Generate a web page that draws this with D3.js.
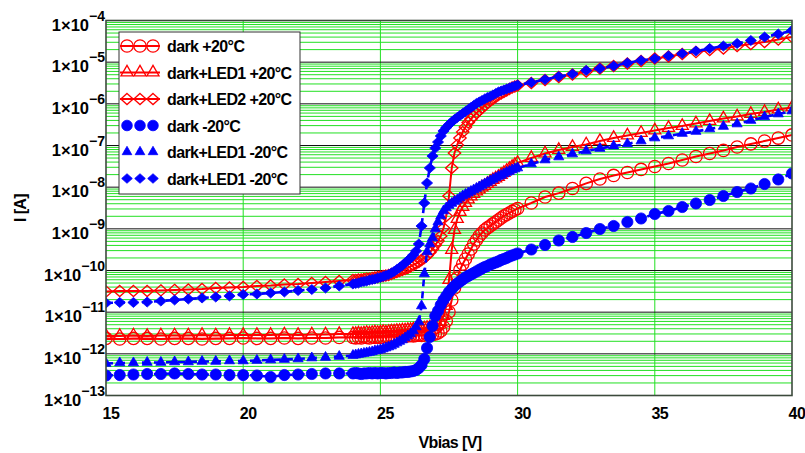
<!DOCTYPE html>
<html>
<head>
<meta charset="utf-8">
<script src="https://cdn.jsdelivr.net/npm/d3@7"></script>
<style>
  html, body { margin: 0; padding: 0; background: #fff; }
  svg { display: block; font-family: "Liberation Sans", Arial, Helvetica, sans-serif; font-weight: bold; }
</style>
</head>
<body>
<svg id="chart" width="805" height="453"></svg>
<script>
// Bias sweep [V]: 0.5 V steps, 0.1 V steps through the breakdown region
const sweepV = [15,15.5,16,16.5,17,17.5,18,18.5,19,19.5,20,20.5,21,21.5,22,22.5,23,23.5,
  24,24.1,24.2,24.3,24.4,24.5,24.6,24.7,24.8,24.9,
  25,25.1,25.2,25.3,25.4,25.5,25.6,25.7,25.8,25.9,
  26,26.1,26.2,26.3,26.4,26.5,26.6,26.7,26.8,26.9,
  27,27.1,27.2,27.3,27.4,27.5,27.6,27.7,27.8,27.9,
  28,28.1,28.2,28.3,28.4,28.5,28.6,28.7,28.8,28.9,
  29,29.1,29.2,29.3,29.4,29.5,29.6,29.7,29.8,29.9,
  30,30.5,31,31.5,32,32.5,33,33.5,34,34.5,35,35.5,36,36.5,37,37.5,38,38.5,39,39.5,40];

// Measured current [A]
const darkP20 = [2.34e-12,2.27e-12,2.34e-12,2.34e-12,2.27e-12,2.34e-12,2.34e-12,2.27e-12,2.34e-12,2.34e-12,2.40e-12,2.34e-12,2.34e-12,2.40e-12,2.34e-12,2.40e-12,2.40e-12,2.47e-12,
  2.47e-12,2.40e-12,2.47e-12,2.40e-12,2.54e-12,2.47e-12,2.40e-12,2.54e-12,2.47e-12,2.54e-12,
  2.47e-12,2.54e-12,2.61e-12,2.54e-12,2.61e-12,2.54e-12,2.61e-12,2.68e-12,2.61e-12,2.68e-12,
  2.68e-12,2.76e-12,2.68e-12,2.76e-12,2.83e-12,2.76e-12,2.83e-12,2.91e-12,2.83e-12,2.91e-12,
  2.99e-12,3.17e-12,3.53e-12,4.41e-12,6.14e-12,1.01e-11,1.96e-11,3.8e-11,6.6e-11,1.03e-10,
  1.43e-10,1.89e-10,2.49e-10,3.28e-10,4.33e-10,5.39e-10,6.72e-10,7.94e-10,9.38e-10,1.05e-9,
  1.17e-9,1.31e-9,1.46e-9,1.63e-9,1.82e-9,2.03e-9,2.21e-9,2.4e-9,2.61e-9,2.83e-9,
  3.08e-9,
  4.17e-9,5.8e-9,7.2e-9,9.3e-9,1.23e-8,1.57e-8,1.91e-8,2.25e-8,2.66e-8,3.13e-8,3.7e-8,4.49e-8,5.45e-8,6.43e-8,7.6e-8,9.2e-8,1.09e-7,1.28e-7,1.51e-7,1.79e-7];

const led1P20 = [2.68e-12,2.68e-12,2.76e-12,2.68e-12,2.76e-12,2.76e-12,2.76e-12,2.83e-12,2.76e-12,2.83e-12,2.83e-12,2.83e-12,2.83e-12,2.91e-12,2.83e-12,2.91e-12,2.91e-12,2.99e-12,
  2.99e-12,2.99e-12,3.08e-12,2.99e-12,3.08e-12,3.17e-12,3.08e-12,3.17e-12,3.25e-12,3.17e-12,
  3.25e-12,3.34e-12,3.25e-12,3.34e-12,3.44e-12,3.44e-12,3.53e-12,3.53e-12,3.63e-12,3.63e-12,
  3.73e-12,3.73e-12,3.84e-12,3.84e-12,3.95e-12,3.95e-12,4.06e-12,4.17e-12,4.29e-12,4.41e-12,
  4.53e-12,4.92e-12,5.8e-12,8.09e-12,1.41e-11,5.9e-11,3.11e-10,9.38e-10,1.72e-9,2.54e-9,
  3.34e-9,4.17e-9,5.05e-9,5.97e-9,6.85e-9,7.86e-9,8.78e-9,9.8e-9,1.07e-8,1.19e-8,
  1.33e-8,1.49e-8,1.62e-8,1.76e-8,1.96e-8,2.19e-8,2.45e-8,2.73e-8,3.05e-8,3.4e-8,
  3.8e-8,
  5.0e-8,6.43e-8,7.79e-8,9.2e-8,1.06e-7,1.28e-7,1.51e-7,1.74e-7,2.0e-7,2.29e-7,2.63e-7,2.94e-7,3.37e-7,3.87e-7,4.45e-7,4.96e-7,5.7e-7,6.37e-7,7.3e-7,8.15e-7];

const led2P20 = [3.14e-11,3.22e-11,3.22e-11,3.22e-11,3.33e-11,3.42e-11,3.5e-11,3.6e-11,3.8e-11,3.9e-11,4.02e-11,4.25e-11,4.37e-11,4.61e-11,4.74e-11,5.01e-11,5.3e-11,5.6e-11,
  5.9e-11,5.9e-11,6.08e-11,6.08e-11,6.25e-11,6.44e-11,6.44e-11,6.62e-11,6.81e-11,7.0e-11,
  7.2e-11,7.39e-11,7.6e-11,7.82e-11,8.25e-11,8.7e-11,9.2e-11,9.7e-11,1.03e-10,1.09e-10,
  1.15e-10,1.25e-10,1.36e-10,1.47e-10,1.6e-10,1.79e-10,2.0e-10,2.29e-10,2.71e-10,3.28e-10,
  4.1e-10,5.1e-10,6.72e-10,1.05e-9,2.03e-9,6.14e-9,2.88e-8,6.6e-8,1.03e-7,1.51e-7,
  2.11e-7,2.78e-7,3.56e-7,4.32e-7,5.1e-7,6.03e-7,6.9e-7,7.94e-7,9.1e-7,1.05e-6,
  1.17e-6,1.31e-6,1.46e-6,1.63e-6,1.77e-6,1.92e-6,2.09e-6,2.27e-6,2.47e-6,2.6e-6,
  2.74e-6,
  3.16e-6,3.73e-6,4.4e-6,5.05e-6,5.97e-6,7.0e-6,8.1e-6,9.3e-6,1.07e-5,1.22e-5,1.37e-5,1.57e-5,1.75e-5,1.96e-5,2.13e-5,2.44e-5,2.73e-5,3.05e-5,3.5e-5,4.01e-5];

const darkM20 = [3.02e-13,3.1e-13,3.19e-13,3.28e-13,3.28e-13,3.38e-13,3.28e-13,3.19e-13,3.19e-13,3.1e-13,3.1e-13,3.02e-13,2.78e-13,3.1e-13,3.19e-13,3.28e-13,3.38e-13,3.38e-13,
  3.38e-13,3.47e-13,3.38e-13,3.28e-13,3.38e-13,3.38e-13,3.47e-13,3.38e-13,3.47e-13,3.38e-13,
  3.47e-13,3.47e-13,3.38e-13,3.47e-13,3.47e-13,3.57e-13,3.47e-13,3.57e-13,3.57e-13,3.67e-13,
  3.67e-13,3.77e-13,3.87e-13,4.09e-13,4.58e-13,5.4e-13,7.5e-13,1.38e-12,2.54e-12,4.66e-12,
  8.09e-12,1.07e-11,1.49e-11,1.96e-11,2.45e-11,3.05e-11,3.6e-11,4.25e-11,4.88e-11,5.45e-11,
  6.08e-11,6.81e-11,7.39e-11,8.03e-11,8.7e-11,9.47e-11,1.03e-10,1.12e-10,1.21e-10,1.28e-10,
  1.39e-10,1.47e-10,1.56e-10,1.65e-10,1.79e-10,1.89e-10,2.0e-10,2.17e-10,2.29e-10,2.42e-10,
  2.56e-10,
  3.19e-10,4.1e-10,5.25e-10,6.38e-10,7.94e-10,9.9e-10,1.17e-9,1.46e-9,1.77e-9,2.27e-9,2.68e-9,3.34e-9,4.06e-9,4.92e-9,6.14e-9,7.65e-9,9.3e-9,1.19e-8,1.53e-8,2.13e-8];

const led1M20 = [5.86e-13,6.03e-13,6.03e-13,6.2e-13,6.2e-13,6.38e-13,6.38e-13,6.56e-13,6.56e-13,6.74e-13,6.74e-13,6.93e-13,7.12e-13,7.32e-13,7.53e-13,7.95e-13,8.17e-13,8.63e-13,
  9.1e-13,9.35e-13,9.65e-13,9.9e-13,1.02e-12,1.05e-12,1.08e-12,1.11e-12,1.17e-12,1.2e-12,
  1.24e-12,1.31e-12,1.38e-12,1.46e-12,1.54e-12,1.68e-12,1.82e-12,1.98e-12,2.15e-12,2.4e-12,
  2.68e-12,2.99e-12,3.53e-12,4.41e-12,5.8e-12,1.41e-11,8.25e-11,2.78e-10,4.33e-10,6.03e-10,
  9.9e-10,1.46e-9,2.03e-9,2.68e-9,3.16e-9,3.63e-9,4.06e-9,4.53e-9,4.92e-9,5.5e-9,
  6.14e-9,6.66e-9,7.23e-9,7.86e-9,8.56e-9,9.3e-9,1.01e-8,1.1e-8,1.19e-8,1.3e-8,
  1.41e-8,1.53e-8,1.66e-8,1.8e-8,1.91e-8,2.07e-8,2.25e-8,2.38e-8,2.58e-8,2.73e-8,
  2.88e-8,
  3.6e-8,4.49e-8,5.3e-8,6.24e-8,7.37e-8,8.47e-8,9.7e-8,1.09e-7,1.28e-7,1.51e-7,1.69e-7,1.94e-7,2.17e-7,2.49e-7,2.86e-7,3.28e-7,3.98e-7,4.83e-7,5.7e-7,6.72e-7];

const led1M20b = [1.66e-11,1.71e-11,1.71e-11,1.75e-11,1.85e-11,1.96e-11,2.07e-11,2.19e-11,2.31e-11,2.45e-11,2.66e-11,2.73e-11,2.89e-11,3.05e-11,3.31e-11,3.5e-11,3.8e-11,4.25e-11,
  4.74e-11,4.88e-11,5.01e-11,5.3e-11,5.45e-11,5.6e-11,5.9e-11,6.08e-11,6.25e-11,6.6e-11,
  6.81e-11,7.2e-11,7.6e-11,8.03e-11,8.7e-11,9.47e-11,1.06e-10,1.18e-10,1.32e-10,1.52e-10,
  1.74e-10,2.0e-10,2.36e-10,2.94e-10,4.33e-10,1.17e-9,4.17e-9,1.26e-8,2.88e-8,5.6e-8,
  8.7e-8,1.21e-7,1.69e-7,2.23e-7,2.7e-7,3.19e-7,3.67e-7,4.2e-7,4.7e-7,5.25e-7,
  5.86e-7,6.55e-7,7.31e-7,8.15e-7,9.1e-7,1.02e-6,1.11e-6,1.2e-6,1.31e-6,1.42e-6,
  1.5e-6,1.63e-6,1.77e-6,1.92e-6,2.03e-6,2.15e-6,2.27e-6,2.4e-6,2.54e-6,2.68e-6,
  2.83e-6,
  3.25e-6,3.84e-6,4.53e-6,5.2e-6,6.32e-6,7.06e-6,8.1e-6,9.55e-6,1.1e-5,1.22e-5,1.41e-5,1.61e-5,1.85e-5,2.13e-5,2.44e-5,2.81e-5,3.31e-5,4.01e-5,4.73e-5,5.76e-5];

const seriesNames = ["dark +20°C", "dark+LED1 +20°C", "dark+LED2 +20°C",
                     "dark -20°C", "dark+LED1 -20°C", "dark+LED1 -20°C"];
const seriesValues = [darkP20, led1P20, led2P20, darkM20, led1M20, led1M20b];

const xTicks = [15, 20, 25, 30, 35, 40];
const yTickExps = [-13, -12, -11, -10, -9, -8, -7, -6, -5, -4];

seriesValues.forEach((s, i) => {
  if (s.length !== sweepV.length) throw new Error("series " + i + " has " + s.length + " points");
});

// ---- presentation ----
const RED = "#ff0000", BLUE = "#0000ff";
const seriesStyle = [
  { color: RED,  dash: null,  width: 2,   marker: "circle",   r: 6.2, filled: false },
  { color: RED,  dash: null,  width: 2,   marker: "triangle", r: 6.2, filled: false },
  { color: RED,  dash: null,  width: 2,   marker: "diamond",  r: 6.2, filled: false },
  { color: BLUE, dash: "7,5", width: 2.6, marker: "circle",   r: 5.6, filled: true },
  { color: BLUE, dash: "7,5", width: 2.6, marker: "triangle", r: 5.2, filled: true },
  { color: BLUE, dash: "7,5", width: 2.6, marker: "diamond",  r: 5.6, filled: true }
];

const plot = { x0: 106, x1: 792, y0: 20.5, y1: 395.5 };
const x = d3.scaleLinear().domain([15, 40]).range([plot.x0, plot.x1]);
const y = d3.scaleLog().domain([1e-13, 1e-4]).range([plot.y1, plot.y0]);

const svg = d3.select("#chart");
svg.append("rect").attr("width", 805).attr("height", 453).attr("fill", "#fff");

svg.append("defs").append("clipPath").attr("id", "plotClip")
  .append("rect")
  .attr("x", plot.x0).attr("y", plot.y0)
  .attr("width", plot.x1 - plot.x0).attr("height", plot.y1 - plot.y0);

// marker outlines centred on the data point
function markerPath(kind, r) {
  const p = d3.path();
  if (kind === "circle") {
    p.moveTo(r, 0);
    p.arc(0, 0, r, 0, 2 * Math.PI);
  } else if (kind === "triangle") {
    const h = r * 1.7, w = r * 1.95;
    p.moveTo(0, -h * 0.68);
    p.lineTo(w / 2, h * 0.32);
    p.lineTo(-w / 2, h * 0.32);
  } else {
    const h = r * 1.8, w = r * 2;
    p.moveTo(0, -h / 2);
    p.lineTo(w / 2, 0);
    p.lineTo(0, h / 2);
    p.lineTo(-w / 2, 0);
  }
  p.closePath();
  return p.toString();
}

// ---- grid ----
const grid = svg.append("g");
const minorValues = [];
yTickExps.slice(0, -1).forEach(e => {
  for (let k = 2; k <= 9; k++) minorValues.push(k * Math.pow(10, e));
});
grid.selectAll("line.minor").data(minorValues).join("line")
  .attr("x1", plot.x0).attr("x2", plot.x1)
  .attr("y1", d => y(d)).attr("y2", d => y(d))
  .attr("stroke", "#22e022").attr("stroke-width", 1);
grid.selectAll("line.vgrid").data(xTicks.slice(1, -1)).join("line")
  .attr("x1", d => x(d)).attr("x2", d => x(d))
  .attr("y1", plot.y0).attr("y2", plot.y1)
  .attr("stroke", "#22e022").attr("stroke-width", 1);
grid.selectAll("line.major").data(yTickExps.slice(1, -1)).join("line")
  .attr("x1", plot.x0).attr("x2", plot.x1)
  .attr("y1", d => y(Math.pow(10, d))).attr("y2", d => y(Math.pow(10, d)))
  .attr("stroke", "#111").attr("stroke-width", 1);

// ---- curves ----
const curves = svg.append("g").attr("clip-path", "url(#plotClip)");
const line = d3.line()
  .x((d, i) => x(sweepV[i]))
  .y(d => y(d));

seriesValues.forEach((vals, si) => {
  const st = seriesStyle[si];
  const g = curves.append("g");
  g.append("path")
    .attr("d", line(vals))
    .attr("fill", "none")
    .attr("stroke", st.color)
    .attr("stroke-width", st.width)
    .attr("stroke-dasharray", st.dash)
    .attr("stroke-linejoin", "round");
  g.selectAll("path.m").data(vals).join("path")
    .attr("transform", (d, i) => `translate(${x(sweepV[i])},${y(d)})`)
    .attr("d", markerPath(st.marker, st.r))
    .attr("fill", st.filled ? st.color : "none")
    .attr("stroke", st.color)
    .attr("stroke-width", st.filled ? 0.8 : 1.3);
});

// ---- frame ----
svg.append("rect")
  .attr("x", plot.x0).attr("y", plot.y0)
  .attr("width", plot.x1 - plot.x0).attr("height", plot.y1 - plot.y0)
  .attr("fill", "none").attr("stroke", "#3c4a3c").attr("stroke-width", 1.6);

// ---- tick labels ----
svg.append("g").selectAll("text").data(xTicks).join("text")
  .attr("x", d => x(d) + 5).attr("y", 419)
  .attr("text-anchor", "middle")
  .attr("font-size", 16).attr("letter-spacing", "-0.5px")
  .text(d => d);

const yLabels = svg.append("g").selectAll("text").data(yTickExps).join("text")
  .attr("x", 105).attr("y", d => y(Math.pow(10, d)) + 10)
  .attr("text-anchor", "end")
  .attr("font-size", 16.5);
yLabels.append("tspan").text("1×10");
yLabels.append("tspan")
  .attr("dy", -10).attr("font-size", 14)
  .text(d => "\u2212" + Math.abs(d));

// ---- axis titles ----
svg.append("text")
  .attr("x", 450).attr("y", 448)
  .attr("text-anchor", "middle").attr("font-size", 16).attr("letter-spacing", "-0.6px")
  .text("Vbias [V]");
svg.append("text")
  .attr("transform", "translate(26,208) rotate(-90)")
  .attr("text-anchor", "middle").attr("font-size", 16).attr("letter-spacing", "-0.6px")
  .text("I [A]");

// ---- legend ----
const legend = svg.append("g");
legend.append("rect")
  .attr("x", 119).attr("y", 32).attr("width", 181).attr("height", 162)
  .attr("fill", "#fff").attr("stroke", "#333").attr("stroke-width", 1);
seriesNames.forEach((name, si) => {
  const st = seriesStyle[si];
  const cy = 46 + si * 26.5;
  const row = legend.append("g");
  row.append("line")
    .attr("x1", 120).attr("x2", 160).attr("y1", cy).attr("y2", cy)
    .attr("stroke", st.color).attr("stroke-width", st.width)
    .attr("stroke-dasharray", st.dash ? "4,9" : null)
    .attr("stroke-dashoffset", st.dash ? -4 : null);
  [127, 140, 153].forEach(mx => {
    row.append("path")
      .attr("transform", `translate(${mx},${cy})`)
      .attr("d", markerPath(st.marker, st.filled ? st.r * 0.95 : st.r))
      .attr("fill", st.filled ? st.color : "none")
      .attr("stroke", st.color)
      .attr("stroke-width", st.filled ? 0.8 : 1.3);
  });
  row.append("text")
    .attr("x", 167).attr("y", cy + 6)
    .attr("font-size", 16).attr("letter-spacing", "-0.6px")
    .text(name);
});
</script>
</body>
</html>
